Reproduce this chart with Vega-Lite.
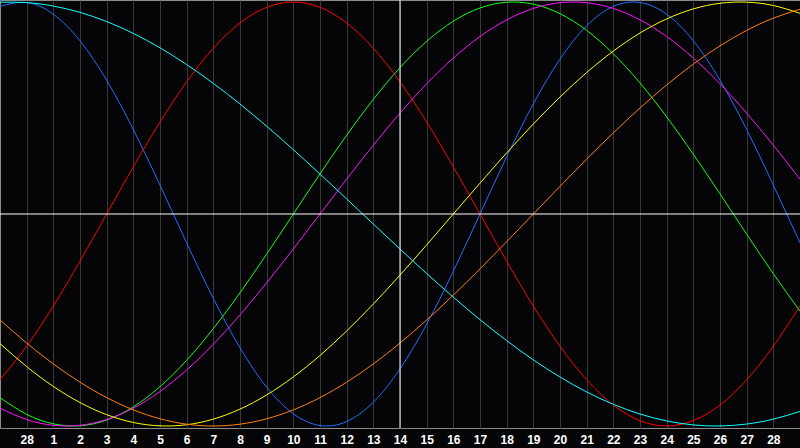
{
  "$schema": "https://vega.github.io/schema/vega-lite/v6.json",
  "width": 800,
  "height": 428,
  "autosize": "none",
  "padding": {"left": 0, "top": 0, "right": 0, "bottom": 20},
  "background": "#050507",
  "config": {
    "view": {"stroke": "#8c8c8c", "strokeWidth": 1, "fill": "#050507"},
    "axis": {"labelOverlap": false},
    "axisX": {
      "title": null,
      "grid": true,
      "gridColor": "#3a3a3a",
      "gridWidth": 1,
      "ticks": false,
      "domain": false,
      "labelColor": "#ffffff",
      "labelFont": "Liberation Sans",
      "labelFontWeight": "bold",
      "labelFontSize": 12,
      "labelPadding": 6,
      "labelOverlap": false,
      "labelFlush": false
    }
  },
  "datasets": {
    "bio": [
      {"s":"23","t":0,"v":0.9791},{"s":"23","t":1,"v":0.9977},{"s":"23","t":2,"v":0.9423},{"s":"23","t":3,"v":0.8170},{"s":"23","t":4,"v":0.6310},{"s":"23","t":5,"v":0.3984},{"s":"23","t":6,"v":0.1362},{"s":"23","t":7,"v":-0.1362},{"s":"23","t":8,"v":-0.3984},{"s":"23","t":9,"v":-0.6310},{"s":"23","t":10,"v":-0.8170},{"s":"23","t":11,"v":-0.9423},{"s":"23","t":12,"v":-0.9977},{"s":"23","t":13,"v":-0.9791},{"s":"23","t":14,"v":-0.8879},{"s":"23","t":15,"v":-0.7308},{"s":"23","t":16,"v":-0.5196},{"s":"23","t":17,"v":-0.2698},{"s":"23","t":18,"v":0},{"s":"23","t":19,"v":0.2698},{"s":"23","t":20,"v":0.5196},{"s":"23","t":21,"v":0.7308},{"s":"23","t":22,"v":0.8879},{"s":"23","t":23,"v":0.9791},{"s":"23","t":24,"v":0.9977},{"s":"23","t":25,"v":0.9423},{"s":"23","t":26,"v":0.8170},{"s":"23","t":27,"v":0.6310},{"s":"23","t":28,"v":0.3984},{"s":"23","t":29,"v":0.1362},{"s":"23","t":30,"v":-0.1362},
      {"s":"28","t":0,"v":-0.7818},{"s":"28","t":1,"v":-0.6235},{"s":"28","t":2,"v":-0.4339},{"s":"28","t":3,"v":-0.2225},{"s":"28","t":4,"v":0},{"s":"28","t":5,"v":0.2225},{"s":"28","t":6,"v":0.4339},{"s":"28","t":7,"v":0.6235},{"s":"28","t":8,"v":0.7818},{"s":"28","t":9,"v":0.9010},{"s":"28","t":10,"v":0.9749},{"s":"28","t":11,"v":1},{"s":"28","t":12,"v":0.9749},{"s":"28","t":13,"v":0.9010},{"s":"28","t":14,"v":0.7818},{"s":"28","t":15,"v":0.6235},{"s":"28","t":16,"v":0.4339},{"s":"28","t":17,"v":0.2225},{"s":"28","t":18,"v":0},{"s":"28","t":19,"v":-0.2225},{"s":"28","t":20,"v":-0.4339},{"s":"28","t":21,"v":-0.6235},{"s":"28","t":22,"v":-0.7818},{"s":"28","t":23,"v":-0.9010},{"s":"28","t":24,"v":-0.9749},{"s":"28","t":25,"v":-1},{"s":"28","t":26,"v":-0.9749},{"s":"28","t":27,"v":-0.9010},{"s":"28","t":28,"v":-0.7818},{"s":"28","t":29,"v":-0.6235},{"s":"28","t":30,"v":-0.4339},
      {"s":"33","t":0,"v":-0.8660},{"s":"33","t":1,"v":-0.9450},{"s":"33","t":2,"v":-0.9898},{"s":"33","t":3,"v":-0.9989},{"s":"33","t":4,"v":-0.9718},{"s":"33","t":5,"v":-0.9096},{"s":"33","t":6,"v":-0.8146},{"s":"33","t":7,"v":-0.6901},{"s":"33","t":8,"v":-0.5406},{"s":"33","t":9,"v":-0.3717},{"s":"33","t":10,"v":-0.1893},{"s":"33","t":11,"v":0},{"s":"33","t":12,"v":0.1893},{"s":"33","t":13,"v":0.3717},{"s":"33","t":14,"v":0.5406},{"s":"33","t":15,"v":0.6901},{"s":"33","t":16,"v":0.8146},{"s":"33","t":17,"v":0.9096},{"s":"33","t":18,"v":0.9718},{"s":"33","t":19,"v":0.9989},{"s":"33","t":20,"v":0.9898},{"s":"33","t":21,"v":0.9450},{"s":"33","t":22,"v":0.8660},{"s":"33","t":23,"v":0.7557},{"s":"33","t":24,"v":0.6182},{"s":"33","t":25,"v":0.4582},{"s":"33","t":26,"v":0.2817},{"s":"33","t":27,"v":0.0951},{"s":"33","t":28,"v":-0.0951},{"s":"33","t":29,"v":-0.2817},{"s":"33","t":30,"v":-0.4582},
      {"s":"38","t":0,"v":-0.9158},{"s":"38","t":1,"v":-0.9694},{"s":"38","t":2,"v":-0.9966},{"s":"38","t":3,"v":-0.9966},{"s":"38","t":4,"v":-0.9694},{"s":"38","t":5,"v":-0.9158},{"s":"38","t":6,"v":-0.8372},{"s":"38","t":7,"v":-0.7357},{"s":"38","t":8,"v":-0.6142},{"s":"38","t":9,"v":-0.4759},{"s":"38","t":10,"v":-0.3247},{"s":"38","t":11,"v":-0.1646},{"s":"38","t":12,"v":0},{"s":"38","t":13,"v":0.1646},{"s":"38","t":14,"v":0.3247},{"s":"38","t":15,"v":0.4759},{"s":"38","t":16,"v":0.6142},{"s":"38","t":17,"v":0.7357},{"s":"38","t":18,"v":0.8372},{"s":"38","t":19,"v":0.9158},{"s":"38","t":20,"v":0.9694},{"s":"38","t":21,"v":0.9966},{"s":"38","t":22,"v":0.9966},{"s":"38","t":23,"v":0.9694},{"s":"38","t":24,"v":0.9158},{"s":"38","t":25,"v":0.8372},{"s":"38","t":26,"v":0.7357},{"s":"38","t":27,"v":0.6142},{"s":"38","t":28,"v":0.4759},{"s":"38","t":29,"v":0.3247},{"s":"38","t":30,"v":0.1646},
      {"s":"43","t":0,"v":-0.6112},{"s":"43","t":1,"v":-0.7198},{"s":"43","t":2,"v":-0.8133},{"s":"43","t":3,"v":-0.8894},{"s":"43","t":4,"v":-0.9465},{"s":"43","t":5,"v":-0.9834},{"s":"43","t":6,"v":-0.9993},{"s":"43","t":7,"v":-0.9940},{"s":"43","t":8,"v":-0.9675},{"s":"43","t":9,"v":-0.9203},{"s":"43","t":10,"v":-0.8536},{"s":"43","t":11,"v":-0.7685},{"s":"43","t":12,"v":-0.6673},{"s":"43","t":13,"v":-0.5518},{"s":"43","t":14,"v":-0.4245},{"s":"43","t":15,"v":-0.2881},{"s":"43","t":16,"v":-0.1456},{"s":"43","t":17,"v":0},{"s":"43","t":18,"v":0.1456},{"s":"43","t":19,"v":0.2881},{"s":"43","t":20,"v":0.4245},{"s":"43","t":21,"v":0.5518},{"s":"43","t":22,"v":0.6673},{"s":"43","t":23,"v":0.7685},{"s":"43","t":24,"v":0.8536},{"s":"43","t":25,"v":0.9203},{"s":"43","t":26,"v":0.9675},{"s":"43","t":27,"v":0.9940},{"s":"43","t":28,"v":0.9993},{"s":"43","t":29,"v":0.9834},{"s":"43","t":30,"v":0.9465},
      {"s":"48","t":0,"v":-0.5},{"s":"48","t":1,"v":-0.6088},{"s":"48","t":2,"v":-0.7071},{"s":"48","t":3,"v":-0.7934},{"s":"48","t":4,"v":-0.8660},{"s":"48","t":5,"v":-0.9239},{"s":"48","t":6,"v":-0.9659},{"s":"48","t":7,"v":-0.9914},{"s":"48","t":8,"v":-1},{"s":"48","t":9,"v":-0.9914},{"s":"48","t":10,"v":-0.9659},{"s":"48","t":11,"v":-0.9239},{"s":"48","t":12,"v":-0.8660},{"s":"48","t":13,"v":-0.7934},{"s":"48","t":14,"v":-0.7071},{"s":"48","t":15,"v":-0.6088},{"s":"48","t":16,"v":-0.5},{"s":"48","t":17,"v":-0.3827},{"s":"48","t":18,"v":-0.2588},{"s":"48","t":19,"v":-0.1305},{"s":"48","t":20,"v":0},{"s":"48","t":21,"v":0.1305},{"s":"48","t":22,"v":0.2588},{"s":"48","t":23,"v":0.3827},{"s":"48","t":24,"v":0.5},{"s":"48","t":25,"v":0.6088},{"s":"48","t":26,"v":0.7071},{"s":"48","t":27,"v":0.7934},{"s":"48","t":28,"v":0.8660},{"s":"48","t":29,"v":0.9239},{"s":"48","t":30,"v":0.9659},
      {"s":"53","t":0,"v":0.9991},{"s":"53","t":1,"v":0.9970},{"s":"53","t":2,"v":0.9809},{"s":"53","t":3,"v":0.9511},{"s":"53","t":4,"v":0.9078},{"s":"53","t":5,"v":0.8518},{"s":"53","t":6,"v":0.7838},{"s":"53","t":7,"v":0.7050},{"s":"53","t":8,"v":0.6162},{"s":"53","t":9,"v":0.5187},{"s":"53","t":10,"v":0.4139},{"s":"53","t":11,"v":0.3034},{"s":"53","t":12,"v":0.1886},{"s":"53","t":13,"v":0.0710},{"s":"53","t":14,"v":-0.0475},{"s":"53","t":15,"v":-0.1652},{"s":"53","t":16,"v":-0.2807},{"s":"53","t":17,"v":-0.3923},{"s":"53","t":18,"v":-0.4983},{"s":"53","t":19,"v":-0.5973},{"s":"53","t":20,"v":-0.6881},{"s":"53","t":21,"v":-0.7689},{"s":"53","t":22,"v":-0.8393},{"s":"53","t":23,"v":-0.8977},{"s":"53","t":24,"v":-0.9434},{"s":"53","t":25,"v":-0.9761},{"s":"53","t":26,"v":-0.9949},{"s":"53","t":27,"v":-0.9998},{"s":"53","t":28,"v":-0.9907},{"s":"53","t":29,"v":-0.9677},{"s":"53","t":30,"v":-0.9311}
    ],
    "today": [{"t": 15}],
    "zero": [{"v": 0}]
  },
  "layer": [
    {
      "data": {"name": "bio"},
      "mark": {"type": "line", "strokeWidth": 1, "interpolate": "natural"},
      "encoding": {
        "x": {
          "field": "t",
          "type": "quantitative",
          "scale": {"domain": [0, 30], "nice": false, "zero": false},
          "axis": {
            "values": [1,2,3,4,5,6,7,8,9,10,11,12,13,14,15,16,17,18,19,20,21,22,23,24,25,26,27,28,29],
            "labelExpr": "datum.value == 1 ? '28' : '' + (datum.value - 1)",
            "labelOverlap": false
          }
        },
        "y": {
          "field": "v",
          "type": "quantitative",
          "scale": {"domain": [-1.0094, 1.0094], "nice": false, "zero": false},
          "axis": null
        },
        "color": {
          "field": "s",
          "type": "nominal",
          "scale": {
            "domain": ["23", "28", "33", "38", "43", "48", "53"],
            "range": ["#1e6eff", "#ff0000", "#10ff10", "#ff10ff", "#ffff00", "#ff8010", "#10ffff"]
          },
          "legend": null
        }
      }
    },
    {
      "data": {"name": "zero"},
      "mark": {"type": "rule", "color": "#ffffff", "strokeWidth": 1},
      "encoding": {"y": {"field": "v", "type": "quantitative", "axis": null}}
    },
    {
      "data": {"name": "today"},
      "mark": {"type": "rule", "color": "#ffffff", "strokeWidth": 1},
      "encoding": {
        "x": {
          "field": "t",
          "type": "quantitative",
          "axis": {
            "values": [1,2,3,4,5,6,7,8,9,10,11,12,13,14,15,16,17,18,19,20,21,22,23,24,25,26,27,28,29],
            "labelExpr": "datum.value == 1 ? '28' : '' + (datum.value - 1)",
            "labelOverlap": false
          }
        }
      }
    }
  ]
}
